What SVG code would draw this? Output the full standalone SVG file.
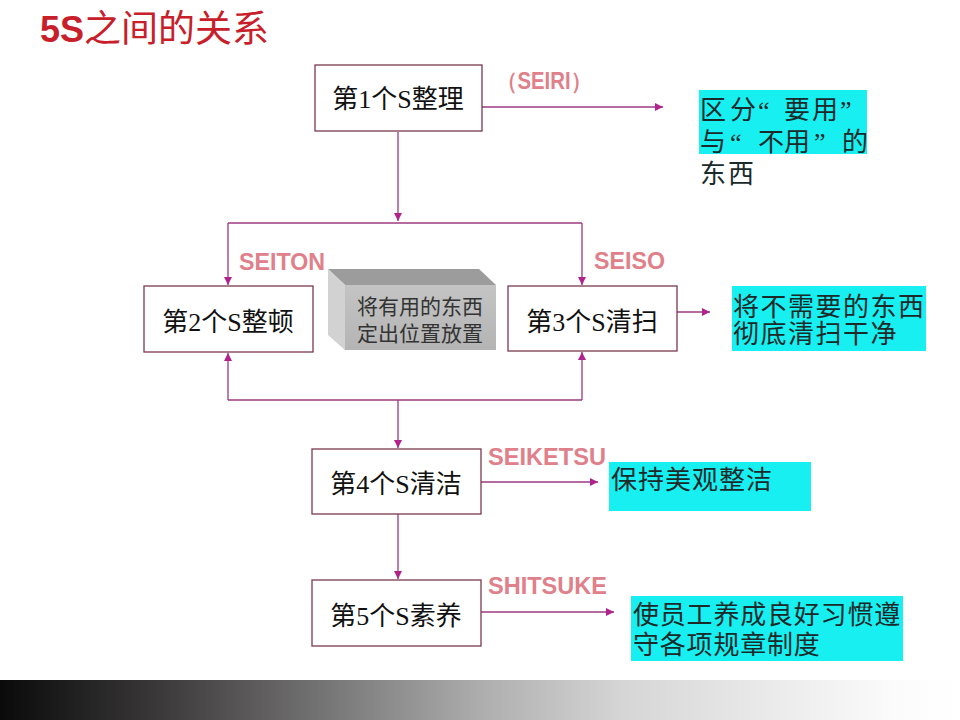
<svg xmlns="http://www.w3.org/2000/svg" width="960" height="720" viewBox="0 0 960 720">
<defs>
<style>
.box{fill:#ffffff;stroke:#7b3a4e;stroke-width:1.3}
.cyan{fill:#18eff0}
.bt{font-family:"Liberation Serif","Noto Sans CJK SC",serif;font-size:26px;fill:#111;text-anchor:middle}
.ct{font-family:"Liberation Serif","Noto Sans CJK SC",serif;font-size:26px;fill:#1a2a2a}
.lbl{font-family:"Liberation Sans",Arial,sans-serif;font-weight:bold;font-size:23px;fill:#e0808a}
.gt{font-family:"Liberation Serif","Noto Sans CJK SC",serif;font-size:21px;fill:#333;text-anchor:middle}
.ln{fill:none;stroke:#9b3a80;stroke-width:1.3}
</style>
<marker id="ah" viewBox="0 0 10 10" refX="10" refY="5" markerWidth="9" markerHeight="8" markerUnits="userSpaceOnUse" orient="auto">
<path d="M0,0 L10,5 L0,10 z" fill="#b0238c"/>
</marker>
<linearGradient id="bar" x1="0" y1="0" x2="1" y2="0">
<stop offset="0" stop-color="#0a0a0a"/>
<stop offset="0.17" stop-color="#3c3a3b"/>
<stop offset="0.5" stop-color="#adadad"/>
<stop offset="0.65" stop-color="#d6d6d6"/>
<stop offset="0.93" stop-color="#fbfbfb"/>
<stop offset="1" stop-color="#ffffff"/>
</linearGradient>
<linearGradient id="front" x1="0" y1="0" x2="0" y2="1">
<stop offset="0" stop-color="#c4c4c4"/>
<stop offset="1" stop-color="#b4b4b4"/>
</linearGradient>
</defs>
<rect x="0" y="0" width="960" height="720" fill="#ffffff"/>
<text x="40" y="42" font-family="'Liberation Sans','Noto Sans CJK SC',sans-serif" font-weight="bold" font-size="36" fill="#c8202a">5S<tspan font-weight="normal" font-size="37">之间的关系</tspan></text>

<g id="connectors">
<path class="ln" d="M398,132 V221" marker-end="url(#ah)"/>
<path class="ln" d="M228,223 H582"/>
<path class="ln" d="M228,223 V285" marker-end="url(#ah)"/>
<path class="ln" d="M582,223 V285" marker-end="url(#ah)"/>
<path class="ln" d="M228,400 H582"/>
<path class="ln" d="M228,400 V353" marker-end="url(#ah)"/>
<path class="ln" d="M582,400 V352" marker-end="url(#ah)"/>
<path class="ln" d="M398,400 V448" marker-end="url(#ah)"/>
<path class="ln" d="M398,514 V579" marker-end="url(#ah)"/>
<path class="ln" d="M482,107 H663" marker-end="url(#ah)"/>
<path class="ln" d="M677,312 H710" marker-end="url(#ah)"/>
<path class="ln" d="M481,482 H598" marker-end="url(#ah)"/>
<path class="ln" d="M481,612 H614" marker-end="url(#ah)"/>
</g>

<g id="labels">
<text class="lbl" x="497" y="89" textLength="94" lengthAdjust="spacingAndGlyphs">（SEIRI）</text>
<text class="lbl" x="239" y="270" textLength="86" lengthAdjust="spacingAndGlyphs">SEITON</text>
<text class="lbl" x="594" y="269" textLength="71" lengthAdjust="spacingAndGlyphs">SEISO</text>
<text class="lbl" x="488" y="465" textLength="118" lengthAdjust="spacingAndGlyphs">SEIKETSU</text>
<text class="lbl" x="488" y="594" textLength="119" lengthAdjust="spacingAndGlyphs">SHITSUKE</text>
</g>

<g id="s1">
<rect class="box" x="315" y="65" width="167" height="66"/>
<text class="bt" x="398" y="108">第1个S整理</text>
</g>
<g id="d1">
<rect class="cyan" x="699" y="90" width="168" height="64"/>
<text class="ct" x="700 730 758 784 812 840" y="119">区分“要用”</text>
<text class="ct" x="700 730 758 784 814 842" y="151">与“不用”的</text>
<text class="ct" x="700" y="183" letter-spacing="2">东西</text>
</g>

<g id="s2">
<rect class="box" x="144" y="286" width="169" height="66"/>
<text class="bt" x="228" y="331">第2个S整顿</text>
</g>
<g id="note">
<polygon points="328,269 479,269 496,285 345,285" fill="#9c9c9c"/>
<polygon points="328,269 345,285 345,350 328,335" fill="#d2d2d2"/>
<rect x="345" y="285" width="151" height="65" fill="url(#front)"/>
<text class="gt" x="420" y="314">将有用的东西</text>
<text class="gt" x="420" y="341">定出位置放置</text>
</g>
<g id="s3">
<rect class="box" x="508" y="286" width="169" height="65"/>
<text class="bt" x="592" y="331">第3个S清扫</text>
</g>
<g id="d3">
<rect class="cyan" x="732" y="286" width="194" height="65"/>
<text class="ct" x="733" y="316" font-size="27" letter-spacing="1.5">将不需要的东西</text>
<text class="ct" x="733" y="343" font-size="27" letter-spacing="1.5">彻底清扫干净</text>
</g>

<g id="s4">
<rect class="box" x="312" y="449" width="169" height="65"/>
<text class="bt" x="396" y="493">第4个S清洁</text>
</g>
<g id="d4">
<rect class="cyan" x="609" y="462" width="202" height="49"/>
<text class="ct" x="611" y="489" letter-spacing="1">保持美观整洁</text>
</g>

<g id="s5">
<rect class="box" x="312" y="580" width="169" height="66"/>
<text class="bt" x="396" y="625">第5个S素养</text>
</g>
<g id="d5">
<rect class="cyan" x="631" y="596" width="272" height="65"/>
<text class="ct" x="633" y="624" font-size="27" letter-spacing="0.8">使员工养成良好习惯遵</text>
<text class="ct" x="633" y="654" font-size="27" letter-spacing="0.8">守各项规章制度</text>
</g>

<rect x="0" y="680" width="960" height="40" fill="url(#bar)"/>
</svg>
